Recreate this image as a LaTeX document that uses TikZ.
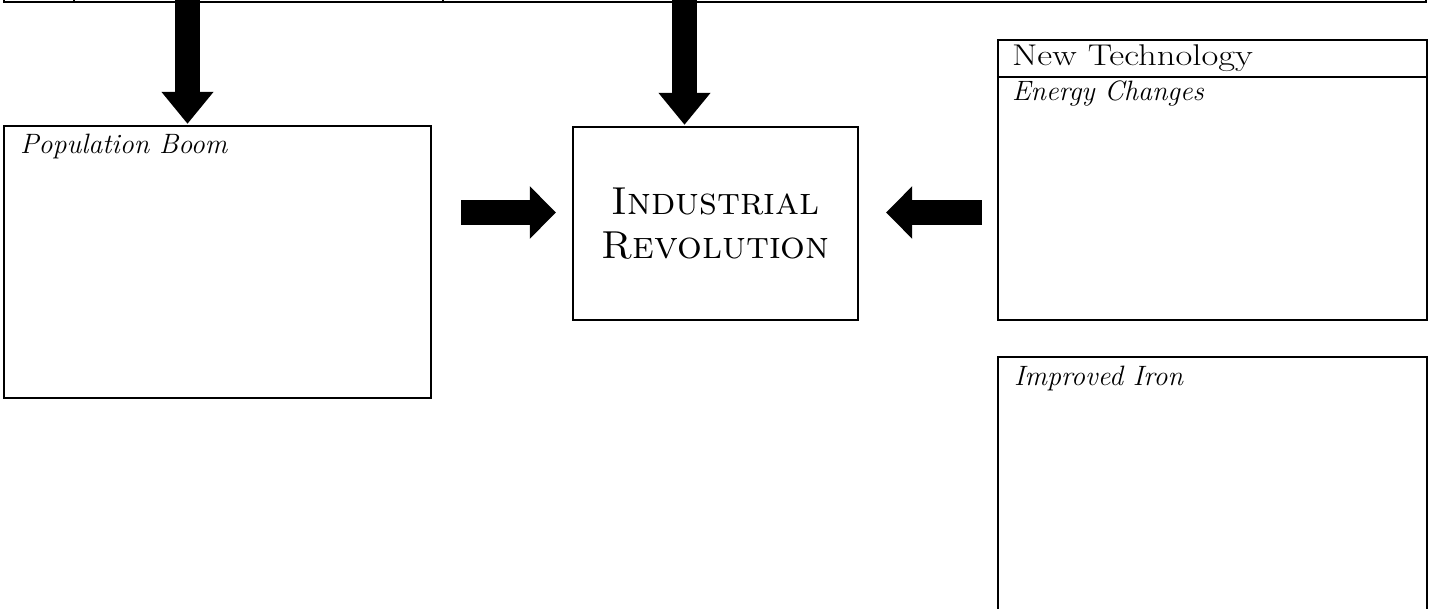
\documentclass[tikz,border=0pt]{standalone}
\usepackage{fontspec}
\usetikzlibrary{arrows.meta}

\tikzset{
  caixa/.style={draw, line width=2.3pt, inner sep=0pt},
  rotulo/.style={font=\fontsize{28}{30}\selectfont\itshape, inner sep=0pt, anchor=base west},
  titulo/.style={font=\fontsize{30}{33}\selectfont, inner sep=0pt, anchor=base west},
  setaV/.style={line width=25pt, -{Triangle[width=50pt,length=32pt]}},
  setaH/.style={line width=25pt, -{Triangle[width=51pt,length=26pt]}},
}

\begin{document}
\begin{tikzpicture}[x=1pt,y=-1pt]
  \useasboundingbox (0,0) rectangle (1431,608);

  % Tabela cortada no topo
  \foreach \xa/\xb/\nome in {3/73/celA, 73/442/celB, 442/1425/celC} {
    \node[caixa, minimum width=\xb-\xa, minimum height=60, anchor=south west] (\nome) at (\xa,3) {};
  }

  % Caixas
  \node[caixa, minimum width=427, minimum height=272] (pop) at (217.5,262) {};
  \node[caixa, minimum width=285, minimum height=193, align=center,
        font=\fontsize{39}{44}\selectfont\scshape] (ind) at (715.5,223.5) {Industrial\\Revolution};
  \node[caixa, minimum width=429, minimum height=280] (tec) at (1212.5,180) {};
  \node[caixa, minimum width=429, minimum height=270] (ferro) at (1212.5,492) {};
  \draw[line width=2.3pt] ([yshift=-38pt]tec.north west) -- ([yshift=-38pt]tec.north east);

  % Textos
  \node[rotulo] (popTxt) at ([shift={(17,29)}]pop.north west) {Population Boom};
  \node[titulo] (tecTit) at ([shift={(15,27)}]tec.north west) {\scalebox{1.22}[1]{New Technology}};
  \node[rotulo] (tecTxt) at ([shift={(15,62)}]tec.north west) {Energy Changes};
  \node[rotulo] (ferroTxt) at ([shift={(17,30)}]ferro.north west) {Improved Iron};

  % Setas
  \coordinate (srcA) at (187.5,0);
  \coordinate (srcB) at (684.5,0);
  \coordinate (nivel) at ([yshift=11pt]ind.west);
  \path (pop.east |- nivel) ++(29,0) coordinate (popE);
  \path (ind.west |- nivel) ++(-16,0) coordinate (indW);
  \path (tec.west |- nivel) ++(-15,0) coordinate (tecW);
  \path (ind.east |- nivel) ++(27,0) coordinate (indE);

  \draw[setaV, shorten >=1pt] (srcA) -- (srcA |- pop.north);
  \draw[setaV, shorten >=1pt] (srcB) -- (srcB |- ind.north);
  \draw[setaH] (popE) -- (indW);
  \draw[setaH] (tecW) -- (indE);
\end{tikzpicture}
\end{document}
